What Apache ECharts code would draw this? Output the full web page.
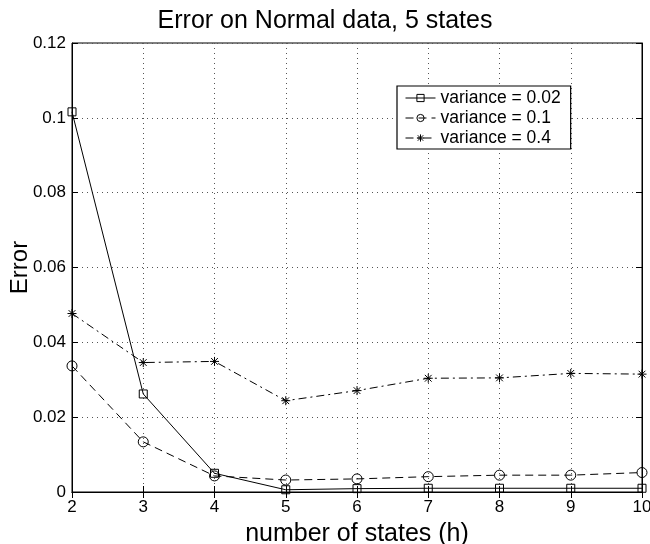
<!DOCTYPE html>
<html><head><meta charset="utf-8">
<script src="https://cdn.jsdelivr.net/npm/echarts@6/dist/echarts.min.js"></script>
<style>html,body{margin:0;padding:0;background:#fff}#c{width:650px;height:544px}</style>
</head><body><div id="c"></div>
<script>
const categories = [2, 3, 4, 5, 6, 7, 8, 9, 10];
const var002 = [0.1016, 0.0262, 0.0050, 0.0006, 0.0009, 0.0010, 0.0010, 0.0010, 0.0010];
const var01 = [0.0337, 0.0134, 0.0043, 0.0032, 0.0035, 0.0041, 0.0045, 0.0045, 0.0052];
const var04 = [0.0477, 0.0346, 0.0349, 0.0244, 0.0271, 0.0304, 0.0305, 0.0317, 0.0315];
const seriesNames = ['variance = 0.02', 'variance = 0.1', 'variance = 0.4'];
const yTicks = [0, 0.02, 0.04, 0.06, 0.08, 0.1, 0.12];

const FONT = 'Liberation Sans';
const star = 'path://M0,-1L0,1M-1,0L1,0M-0.75,-0.75L0.75,0.75M-0.75,0.75L0.75,-0.75';
const chart = echarts.init(document.getElementById('c'), null, {renderer: 'canvas'});
const grid = {left: 72, right: 8, top: 43, bottom: 52, show: true, borderColor: '#000', borderWidth: 1,
  containLabel: false, outerBoundsMode: 'none'};
const xBase = {type: 'value', min: 2, max: 10, interval: 1};
const yBase = {type: 'value', min: yTicks[0], max: yTicks[yTicks.length - 1], interval: 0.02};
function mk(name, data, symbol, size, dash) {
  return {
    name, type: 'line', data: categories.map((c, i) => [c, data[i]]),
    symbol, symbolSize: size, showSymbol: true,
    lineStyle: {color: '#000', width: 1, type: dash},
    itemStyle: {color: 'rgba(255,255,255,0)', borderColor: '#000', borderWidth: 1},
    emphasis: {disabled: true}, animation: false
  };
}
chart.setOption({
  animation: false,
  backgroundColor: '#fff',
  title: {text: 'Error on Normal data, 5 states', left: 'center', top: 4,
    textStyle: {fontFamily: FONT, fontSize: 25, fontWeight: 'normal', color: '#000'}},
  legend: {
    data: seriesNames, orient: 'vertical', left: 397, top: 86,
    backgroundColor: '#fff', borderColor: '#000', borderWidth: 1.2, padding: [3, 10, 2, 8],
    itemGap: 2, itemWidth: 30, itemHeight: 9,
    lineStyle: {width: 1},
    itemStyle: {borderWidth: 1},
    textStyle: {fontFamily: FONT, fontSize: 17.5, color: '#000'}
  },
  grid,
  xAxis: [
    Object.assign({}, xBase, {
      name: 'number of states (h)', nameLocation: 'middle', nameGap: 30, nameMoveOverlap: false,
      nameTextStyle: {fontFamily: FONT, fontSize: 25, color: '#000'},
      axisLine: {show: true, lineStyle: {color: '#000'}},
      axisTick: {show: true, inside: true, length: 6, lineStyle: {color: '#000'}},
      axisLabel: {fontFamily: FONT, fontSize: 17, color: '#000', margin: 7},
      splitLine: {show: true, lineStyle: {color: '#555', type: [1, 4], width: 1}}
    }),
    Object.assign({}, xBase, {
      position: 'top',
      axisLine: {show: true, lineStyle: {color: '#000'}},
      axisTick: {show: true, inside: true, length: 6, lineStyle: {color: '#000'}},
      axisLabel: {show: false}, splitLine: {show: false}
    })
  ],
  yAxis: [
    Object.assign({}, yBase, {
      name: 'Error', nameLocation: 'middle', nameGap: 40, nameMoveOverlap: false,
      nameTextStyle: {fontFamily: FONT, fontSize: 24, color: '#000'},
      axisLine: {show: true, lineStyle: {color: '#000'}},
      axisTick: {show: true, inside: true, length: 6, lineStyle: {color: '#000'}},
      axisLabel: {fontFamily: FONT, fontSize: 17, color: '#000', margin: 6,
        formatter: v => String(+v.toFixed(2))},
      splitLine: {show: true, lineStyle: {color: '#555', type: [1, 4], width: 1}}
    }),
    Object.assign({}, yBase, {
      position: 'right',
      axisLine: {show: true, lineStyle: {color: '#000'}},
      axisTick: {show: true, inside: true, length: 6, lineStyle: {color: '#000'}},
      axisLabel: {show: false}, splitLine: {show: false}
    })
  ],
  series: [
    mk(seriesNames[0], var002, 'rect', 8, 'solid'),
    mk(seriesNames[1], var01, 'circle', 10, [8, 5]),
    mk(seriesNames[2], var04, star, 9, [8, 4, 2, 4])
  ]
});
</script></body></html>
